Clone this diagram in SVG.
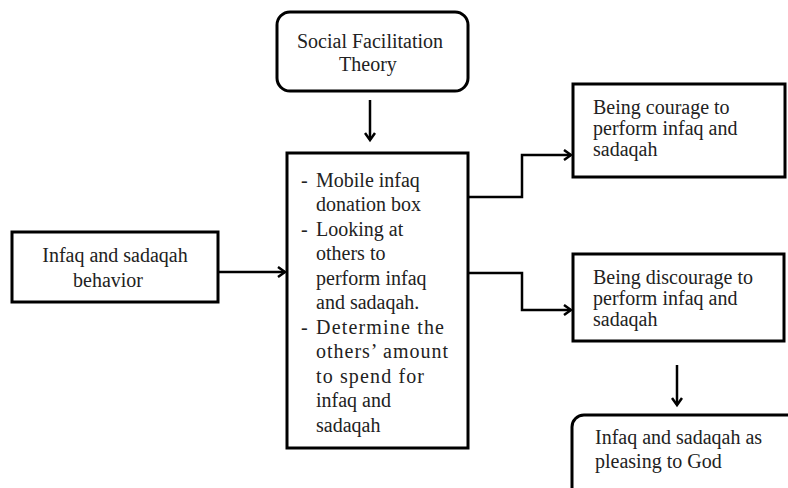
<svg xmlns="http://www.w3.org/2000/svg" width="788" height="488" viewBox="0 0 788 488">
<style>
.box{fill:#fff;stroke:#000;stroke-width:3}
.t{font-family:"Liberation Serif","Times New Roman",serif;font-size:20px;fill:#222}
.m{text-anchor:middle}
.c{fill:none;stroke:#000;stroke-width:2.5}
</style>
<defs>
<marker id="ah" markerWidth="12" markerHeight="12" refX="9" refY="6" orient="auto" markerUnits="userSpaceOnUse">
<path d="M2,1 L9,6 L2,11" fill="none" stroke="#000" stroke-width="2.5"/>
</marker>
</defs>
<rect width="788" height="488" fill="#fff"/>
<g id="theory">
<rect class="box" x="277" y="12" width="191" height="79" rx="13"/>
<text class="t m" x="370" y="48">Social Facilitation</text>
<text class="t m" x="368" y="71">Theory</text>
</g>
<g id="behavior">
<rect class="box" x="12" y="232" width="206" height="70"/>
<text class="t m" x="115" y="262">Infaq  and sadaqah</text>
<text class="t m" x="108" y="287">behavior</text>
</g>
<g id="factors">
<rect class="box" x="287" y="153" width="181" height="295"/>
<text class="t" x="301" y="187">-</text>
<text class="t" x="316" y="187">Mobile infaq</text>
<text class="t" x="316" y="211">donation box</text>
<text class="t" x="301" y="236">-</text>
<text class="t" x="316" y="236">Looking at</text>
<text class="t" x="316" y="260">others to</text>
<text class="t" x="316" y="285">perform infaq</text>
<text class="t" x="316" y="309">and sadaqah.</text>
<text class="t" x="301" y="334">-</text>
<text class="t" x="316" y="334" textLength="128" lengthAdjust="spacing">Determine the</text>
<text class="t" x="316" y="358" textLength="132" lengthAdjust="spacing">others’ amount</text>
<text class="t" x="316" y="383" textLength="108" lengthAdjust="spacing">to spend for</text>
<text class="t" x="316" y="407">infaq and</text>
<text class="t" x="316" y="432">sadaqah</text>
</g>
<g id="courage">
<rect class="box" x="573" y="84" width="212" height="93"/>
<text class="t" x="593" y="114">Being courage to</text>
<text class="t" x="593" y="135">perform infaq and</text>
<text class="t" x="593" y="156">sadaqah</text>
</g>
<g id="discourage">
<rect class="box" x="573" y="254" width="211" height="87"/>
<text class="t" x="593" y="284">Being discourage to</text>
<text class="t" x="593" y="305">perform infaq and</text>
<text class="t" x="593" y="326">sadaqah</text>
</g>
<g id="pleasing">
<rect class="box" x="572" y="415" width="230" height="90" rx="12"/>
<text class="t" x="595" y="444">Infaq and sadaqah as</text>
<text class="t" x="595" y="468">pleasing to God</text>
</g>
<g id="connectors">
<path class="c" d="M370,100 V140" marker-end="url(#ah)"/>
<path class="c" d="M218,272 H285" marker-end="url(#ah)"/>
<path class="c" d="M468,197 H522 V155 H571" marker-end="url(#ah)"/>
<path class="c" d="M468,273 H522 V310 H571" marker-end="url(#ah)"/>
<path class="c" d="M677,365 V405" marker-end="url(#ah)"/>
</g>
</svg>
